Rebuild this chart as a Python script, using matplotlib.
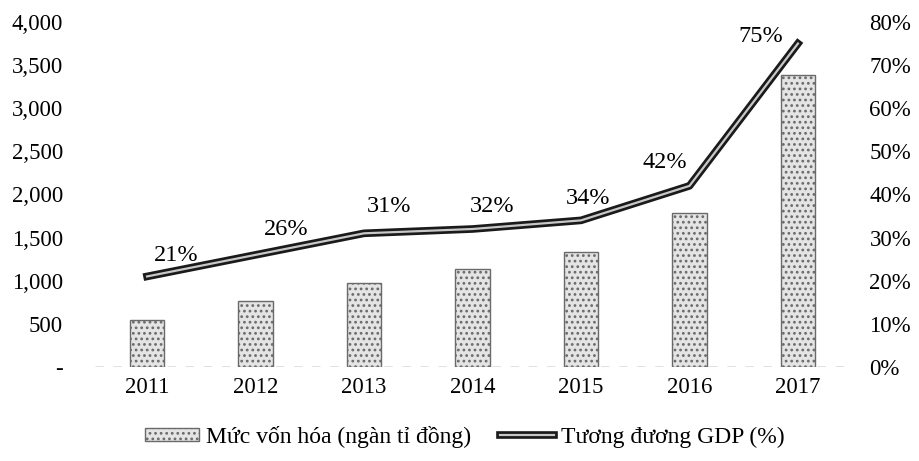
import numpy as np
import matplotlib
matplotlib.use('Agg')
import matplotlib.pyplot as plt
import matplotlib.patheffects as pe
from matplotlib.ticker import FuncFormatter

plt.rcParams['font.family'] = ['Liberation Serif', 'DejaVu Serif']
plt.rcParams['hatch.color'] = '#8a8a8a'
plt.rcParams['hatch.linewidth'] = 1.2

# data
years = ['2011', '2012', '2013', '2014', '2015', '2016', '2017']
von_hoa = [545, 765, 975, 1135, 1335, 1785, 3380]   # ngàn tỉ đồng
gdp_pct = [21, 26, 31, 32, 34, 42, 75]              # %
label_offsets = [(21, 15), (22, 18), (18, 19), (14, 16), (5, 16), (-18, 17), (-27, 5)]

fig = plt.figure(figsize=(9.19, 4.61), dpi=100)
ax = fig.add_axes([95/919, 1 - 367/461, 755/919, 345/461])
x = np.arange(len(years))

bars = ax.bar(x, von_hoa, width=0.32, facecolor='#e4e4e4', edgecolor='#6a6a6a',
              linewidth=1.0, hatch='...', label='Mức vốn hóa (ngàn tỉ đồng)', zorder=2)

ax.set_xlim(-0.48, 6.48)
ax.set_ylim(0, 4000)
ax.set_yticks(np.arange(0, 4001, 500))
ax.yaxis.set_major_formatter(FuncFormatter(lambda v, p: '-' if v == 0 else f'{int(v):,}'))
ax.set_xticks(x)
ax.set_xticklabels(years)
ax.tick_params(axis='both', length=0, labelsize=16.5)
ax.tick_params(axis='y', pad=23)
ax.tick_params(axis='x', pad=7)
for s in ax.spines.values():
    s.set_visible(False)
ax.axhline(0, color='#666666', lw=1, linestyle=(0, (6, 7)), zorder=1)

ax2 = ax.twinx()
ax2.set_ylim(0, 80)
ax2.set_yticks(np.arange(0, 81, 10))
ax2.yaxis.set_major_formatter(FuncFormatter(lambda v, p: f'{int(v)}%'))
ax2.tick_params(axis='y', length=0, labelsize=16.5, pad=14)
for s in ax2.spines.values():
    s.set_visible(False)

line, = ax2.plot(x, gdp_pct, color='#c8c8c8', lw=1.6, label='Tương đương GDP (%)',
                 path_effects=[pe.Stroke(linewidth=5.5, foreground='#1a1a1a'), pe.Normal()],
                 solid_joinstyle='round', zorder=3)

for i, v in enumerate(gdp_pct):
    ax2.annotate(f'{v}%', (x[i], v), xytext=label_offsets[i], textcoords='offset points',
                 ha='center', va='center', fontsize=17.5)

fig.legend(handles=[bars, line], loc='center', bbox_to_anchor=(465/919, 1 - 437/461),
           ncol=2, frameon=False, fontsize=17, handlelength=2.3, handleheight=0.5,
           columnspacing=1.2, handletextpad=0.3)

fig.savefig('out.png', dpi=100)
